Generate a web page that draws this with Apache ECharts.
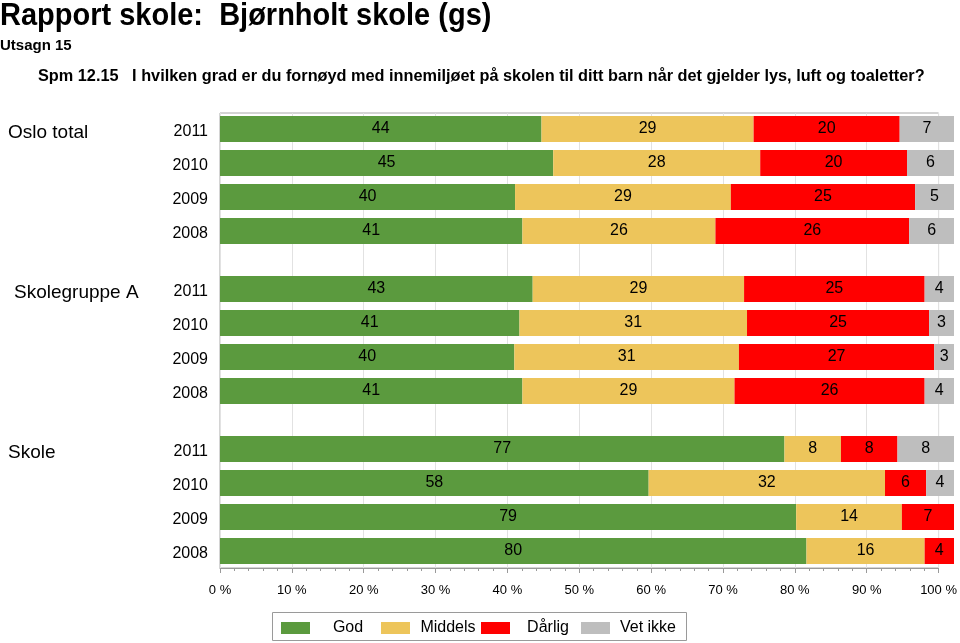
<!DOCTYPE html>
<html>
<head>
<meta charset="utf-8">
<script src="https://cdn.jsdelivr.net/npm/echarts@6/dist/echarts.min.js"></script>
<style>
html,body{margin:0;padding:0;background:#fff;}
#c{width:960px;height:643px;}
</style>
</head>
<body>
<div id="c"></div>
<script>
// ---- data ----
var years = ['2011', '2010', '2009', '2008'];
var groupNames = ['Oslo total', 'Skolegruppe A', 'Skole'];
var seriesNames = ['God', 'Middels', 'Dårlig', 'Vet ikke'];
var xTicks = [0, 10, 20, 30, 40, 50, 60, 70, 80, 90, 100];

// values per group, rows = 2011,2010,2009,2008 (percent)
var osloGod      = [43.8, 45.4, 40.2, 41.2];
var osloMiddels  = [28.9, 28.2, 29.4, 26.3];
var osloDarlig   = [19.9, 20.0, 25.1, 26.4];
var osloVetIkke  = [7.4, 6.4, 5.3, 6.1];

var gruppeGod     = [42.6, 40.8, 40.1, 41.2];
var gruppeMiddels = [28.8, 31.0, 30.6, 28.9];
var gruppeDarlig  = [24.6, 24.8, 26.6, 25.9];
var gruppeVetIkke = [4.0, 3.4, 2.7, 4.0];

var skoleGod     = [76.9, 58.4, 78.5, 79.9];
var skoleMiddels = [7.7, 32.2, 14.4, 16.1];
var skoleDarlig  = [7.7, 5.6, 7.1, 4.0];
var skoleVetIkke = [7.7, 3.8, 0, 0];

var groups = [
  [osloGod, osloMiddels, osloDarlig, osloVetIkke],
  [gruppeGod, gruppeMiddels, gruppeDarlig, gruppeVetIkke],
  [skoleGod, skoleMiddels, skoleDarlig, skoleVetIkke]
];

var colors = ['#5b9a3e', '#edc55b', '#ff0000', '#bebebe'];
var FONT = 'Liberation Sans, Arial, sans-serif';

var chart = echarts.init(document.getElementById('c'), null, {renderer: 'canvas'});

var plotLeft = 220, plotWidth = 734;
var gridTops = [112, 272, 432];
var labelTops = [133, 293, 453];
var labelLefts = [8, 14, 8];

var grids = [{left: plotLeft, width: plotWidth, top: 113, height: 455, show: true, borderColor: '#a8a8a8', borderWidth: 1, backgroundColor: 'transparent'}];
var xAxes = [{
  gridIndex: 0, type: 'value', min: 0, max: 100, interval: 10,
  axisLine: {show: true, lineStyle: {color: '#9a9a9a'}},
  axisTick: {show: true, length: 5, lineStyle: {color: '#9a9a9a'}},
  minorTick: {show: true, splitNumber: 5, length: 3, lineStyle: {color: '#9a9a9a'}},
  splitLine: {show: true, lineStyle: {color: '#e2e2e2'}},
  axisLabel: {margin: 16, fontSize: 13, color: '#000', fontFamily: FONT,
    formatter: function (v) { return xTicks.indexOf(v) >= 0 ? v + ' %' : ''; }}
}];
var yAxes = [{gridIndex: 0, type: 'value', show: false, min: 0, max: 1}];
var series = [];

for (var g = 0; g < 3; g++) {
  var gi = g + 1;
  grids.push({left: plotLeft, width: plotWidth, top: gridTops[g], height: 136});
  xAxes.push({gridIndex: gi, type: 'value', min: 0, max: 100, show: false, splitLine: {show: false}});
  yAxes.push({
    gridIndex: gi, type: 'category', data: years, inverse: true,
    axisLine: {show: false}, axisTick: {show: false}, splitLine: {show: false},
    axisLabel: {fontSize: 16, color: '#000', margin: 12, fontFamily: FONT,
      formatter: function (v) { return '{y|' + v + '}'; },
      rich: {y: {fontSize: 16, color: '#000', fontFamily: FONT, padding: [6, 0, 0, 0]}}}
  });
  for (var s = 0; s < 4; s++) {
    series.push({
      name: seriesNames[s], type: 'bar', stack: 'g' + g,
      xAxisIndex: gi, yAxisIndex: gi, barWidth: 26,
      itemStyle: {color: colors[s]},
      label: {
        show: true, position: 'inside', color: '#000', fontSize: 16, fontFamily: FONT,
        formatter: function (p) { return p.value > 0 ? String(Math.round(p.value)) : ''; }
      },
      data: groups[g][s].map(function (v) { return v > 0 ? v : null; }),
      animation: false
    });
  }
}

var graphics = [
  {type: 'text', x: 0, y: 1, scaleY: 1.08, style: {text: 'Rapport skole:  Bjørnholt skole (gs)', font: 'bold 29px ' + FONT, fill: '#000'}},
  {type: 'text', left: 0, top: 38, style: {text: 'Utsagn 15', font: 'bold 15px ' + FONT, fill: '#000'}},
  {type: 'text', left: 38, top: 69, style: {text: 'Spm 12.15   I hvilken grad er du fornøyd med innemiljøet på skolen til ditt barn når det gjelder lys, luft og toaletter?', font: 'bold 16.3px ' + FONT, fill: '#000'}},
  {type: 'rect', left: 272, top: 612, shape: {width: 414, height: 28}, style: {fill: 'transparent', stroke: '#9a9a9a', lineWidth: 1}}
];
for (var k = 0; k < 3; k++) {
  graphics.push({type: 'text', left: labelLefts[k], top: labelTops[k] - 10,
    style: {text: groupNames[k], font: '19px ' + FONT, fill: '#000'}});
}

var legends = seriesNames.map(function (n, i) {
  return {
    data: [n],
    left: 281 + 100 * i, top: 620,
    orient: 'horizontal',
    itemWidth: 29, itemHeight: 12, itemGap: 0,
    padding: 0,
    selectedMode: false,
    icon: 'rect',
    formatter: function (t) { return '{a|' + t + '}'; },
    textStyle: {fontSize: 16, color: '#000', fontFamily: FONT,
      rich: {a: {width: 66, align: 'center', fontSize: 16, fontFamily: FONT, color: '#000'}}}
  };
});

chart.setOption({
  animation: false,
  backgroundColor: '#fff',
  grid: grids,
  xAxis: xAxes,
  yAxis: yAxes,
  series: series,
  graphic: graphics,
  legend: legends
});
</script>
</body>
</html>
